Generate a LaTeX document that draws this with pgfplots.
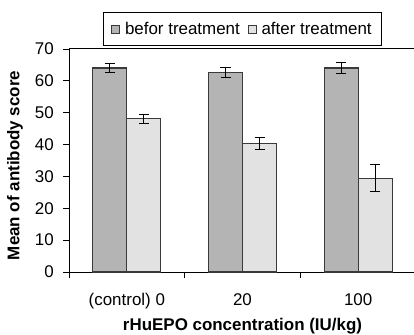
\documentclass[border=0pt]{standalone}
\usepackage{pgfplots}
\pgfplotsset{compat=1.18}
\usepackage{fontspec}
\setmainfont{Liberation Sans}
\definecolor{befc}{HTML}{B4B4B4}
\definecolor{aftc}{HTML}{E2E2E2}
\definecolor{edgec}{HTML}{3A3A3A}
\begin{document}
\begin{tikzpicture}
\begin{axis}[
  name=ax, at={(0,0)}, anchor=south west,
  scale only axis, width=347bp, height=223bp,
  clip=false,
  ybar=0pt, bar width=34bp,
  xmin=-0.5, xmax=2.5, ymin=0, ymax=70,
  xtick={0,1,2}, xticklabels={(control) 0,20,100},
  major x tick style={draw=none},
  minor xtick={-0.5,0.5,1.5,2.5},
  ytick={0,10,...,70},
  tick align=outside, tick pos=left,
  major tick length=6bp, minor tick length=6bp,
  tick style={black, line width=0.8bp},
  axis line style={black, line width=1bp},
  font={\fontsize{17}{20}\selectfont},
  xticklabel style={anchor=base, yshift=-27bp},
  yticklabel style={anchor=east, inner sep=0pt, xshift=-9bp},
  /pgf/number format/assume math mode=true,
  xlabel={\bfseries rHuEPO concentration (IU/kg)},
  xlabel style={at={(axis description cs:0.5,0)}, anchor=base, yshift=-58bp, font={\fontsize{17}{20}\selectfont\bfseries}},
  legend columns=2,
  legend style={at={(axis description cs:0.5,1)}, anchor=south, yshift=3bp,
    draw=black, line width=0.8bp, inner xsep=8bp, inner ysep=7.5bp,
    font={\fontsize{17}{20}\selectfont},
    /tikz/every odd column/.append style={column sep=3bp},
    /tikz/every even column/.append style={column sep=6bp}},
  legend image code/.code={\draw[#1, line width=0.7bp] (0bp,-4bp) rectangle (8bp,4bp);},
  error bars/error bar style={black, line width=1bp},
  error bars/error mark options={rotate=90, black, mark size=5bp, line width=1bp},
]
\addplot[fill=befc, draw=edgec, line width=1.3bp, bar shift=-17bp,
  error bars/.cd, y dir=both, y explicit]
  coordinates {(0,64) +- (0,1.4) (1,62.6) +- (0,1.7) (2,64) +- (0,1.8)};
\addplot[fill=aftc, draw=edgec, line width=1.3bp, bar shift=17bp,
  error bars/.cd, y dir=both, y explicit]
  coordinates {(0,48.1) +- (0,1.4) (1,40.4) +- (0,1.8) (2,29.4) +- (0,4.2)};
\legend{befor treatment, after treatment}
\end{axis}
\node[rotate=90, anchor=center, font={\fontsize{17}{20}\selectfont\bfseries}]
  at ([xshift=-54bp, yshift=-5bp]ax.west) {Mean of antibody score};
\pgfresetboundingbox
\useasboundingbox (-69bp,-63bp) rectangle (345bp,272bp);
\end{tikzpicture}
\end{document}
